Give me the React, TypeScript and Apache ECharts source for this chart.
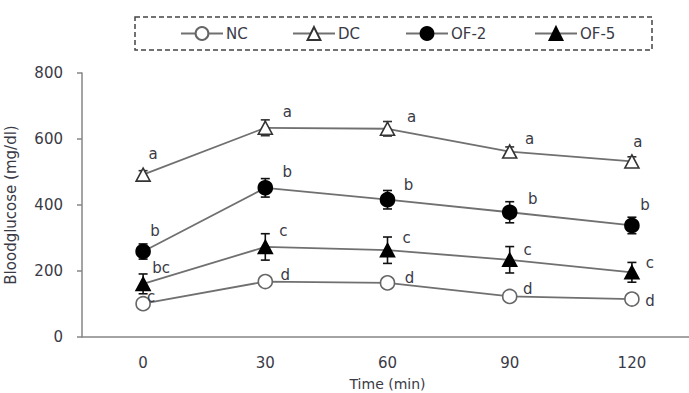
import React, { useEffect, useRef } from "react";
import * as echarts from "echarts";

// Time points (min)
const times = ["0", "30", "60", "90", "120"];

// Mean blood glucose (mg/dl) per group
const ncValues = [101, 168, 164, 123, 115];
const dcValues = [492, 634, 631, 562, 532];
const of2Values = [259, 452, 416, 378, 338];
const of5Values = [161, 273, 263, 234, 196];

// Standard errors (mg/dl)
const ncErr = [10, 10, 10, 10, 10];
const dcErr = [12, 24, 22, 14, 14];
const of2Err = [23, 28, 28, 32, 25];
const of5Err = [30, 40, 40, 40, 30];

// Significance letters
const ncLetters = ["c", "d", "d", "d", "d"];
const dcLetters = ["a", "a", "a", "a", "a"];
const of2Letters = ["b", "b", "b", "b", "b"];
const of5Letters = ["bc", "c", "c", "c", "c"];

const yTicks = [0, 200, 400, 600, 800];

const FONT = "DejaVu Sans";
const LINE_COLOR = "#707070";
const TEXT_COLOR = "#3a3a46";

// Letter placement relative to each marker
const ncOffsets = [[8, -7], [20, -7], [22, -5], [18, -7], [18, 2]];
const dcOffsets = [[10, -21], [22, -16], [24, -12], [20, -13], [6, -19]];
const of2Offsets = [[12, -21], [22, -16], [21, -15], [23, -13], [13, -20]];
const of5Offsets = [[18, -16], [18, -16], [19, -12], [18, -10], [18, -9]];

function withLetters(values: number[], letters: string[], offsets: number[][]) {
  return values.map((v, i) => ({
    value: v,
    label: {
      show: true,
      position: "inside",
      formatter: letters[i],
      offset: offsets[i],
      color: TEXT_COLOR,
      fontFamily: FONT,
      fontSize: 15,
    },
  }));
}

function errorSeries(values: number[], errs: number[], color: string) {
  return {
    type: "custom",
    z: 1,
    silent: true,
    data: values.map((v, i) => [i, v - errs[i], v + errs[i]]),
    renderItem: (_params: any, api: any) => {
      const x = api.value(0);
      const lo = api.coord([x, api.value(1)]);
      const hi = api.coord([x, api.value(2)]);
      const cap = 4.5;
      const style = { stroke: color, lineWidth: 1.6 };
      return {
        type: "group",
        children: [
          { type: "line", shape: { x1: lo[0], y1: lo[1], x2: hi[0], y2: hi[1] }, style },
          { type: "line", shape: { x1: hi[0] - cap, y1: hi[1], x2: hi[0] + cap, y2: hi[1] }, style },
          { type: "line", shape: { x1: lo[0] - cap, y1: lo[1], x2: lo[0] + cap, y2: lo[1] }, style },
        ],
      };
    },
  };
}

function lineSeries(
  name: string,
  data: any[],
  symbol: string,
  fill: string,
  border: string
) {
  return {
    name,
    type: "line",
    z: 3,
    data,
    symbol,
    symbolSize: symbol === "triangle" ? [14, 13] : 14,
    showAllSymbol: true,
    lineStyle: { color: LINE_COLOR, width: 1.8 },
    itemStyle: { color: fill, borderColor: border, borderWidth: 1.6 },
  };
}

const legendLefts = [180, 292, 405, 534];
const legendNames = ["NC", "DC", "OF-2", "OF-5"];

export default function App() {
  const ref = useRef<HTMLDivElement>(null);

  useEffect(() => {
    if (!ref.current) return;
    const chart = echarts.init(ref.current, null, { renderer: "svg" });

    chart.setOption({
      animation: false,
      backgroundColor: "#ffffff",
      textStyle: { fontFamily: FONT },
      grid: {
        left: 82,
        top: 73,
        width: 611,
        bottom: 56,
        containLabel: false,
        outerBoundsMode: "none",
      },
      legend: legendNames.map((n, i) => ({
        data: [n],
        left: legendLefts[i],
        top: 26,
        padding: 0,
        itemWidth: 42,
        itemHeight: 16,
        itemGap: 0,
        selectedMode: false,
        textStyle: { color: TEXT_COLOR, fontFamily: FONT, fontSize: 15, padding: [0, 0, 0, -2] },
      })),
      graphic: [
        {
          type: "rect",
          shape: { x: 135, y: 17, width: 517, height: 33 },
          style: { fill: "none", stroke: "#444", lineWidth: 1.5, lineDash: [5, 3] },
        },
      ],
      xAxis: {
        type: "category",
        data: times,
        boundaryGap: true,
        name: "Time (min)",
        nameLocation: "middle",
        nameGap: 40,
        nameTextStyle: { color: TEXT_COLOR, fontFamily: FONT, fontSize: 14 },
        axisLine: { lineStyle: { color: "#868686", width: 1.5 } },
        axisTick: { show: false },
        axisLabel: { color: TEXT_COLOR, fontFamily: FONT, fontSize: 15, margin: 18 },
        splitLine: { show: false },
      },
      yAxis: {
        type: "value",
        min: yTicks[0],
        max: yTicks[yTicks.length - 1],
        interval: yTicks[1] - yTicks[0],
        name: "Bloodglucose (mg/dl)",
        nameLocation: "middle",
        nameGap: 64,
        nameTextStyle: { color: TEXT_COLOR, fontFamily: FONT, fontSize: 15 },
        axisLine: { show: true, lineStyle: { color: "#868686", width: 1.5 } },
        axisTick: { show: true, length: 5, lineStyle: { color: "#868686", width: 1.5 } },
        axisLabel: { color: TEXT_COLOR, fontFamily: FONT, fontSize: 15, margin: 19 },
        splitLine: { show: false },
      },
      series: [
        errorSeries(ncValues, ncErr, "#666"),
        errorSeries(dcValues, dcErr, "#333"),
        errorSeries(of2Values, of2Err, "#111"),
        errorSeries(of5Values, of5Err, "#111"),
        lineSeries("NC", withLetters(ncValues, ncLetters, ncOffsets), "circle", "#ffffff", "#666666"),
        lineSeries("DC", withLetters(dcValues, dcLetters, dcOffsets), "triangle", "#ffffff", "#333333"),
        lineSeries("OF-2", withLetters(of2Values, of2Letters, of2Offsets), "circle", "#000000", "#000000"),
        lineSeries("OF-5", withLetters(of5Values, of5Letters, of5Offsets), "triangle", "#000000", "#000000"),
      ],
    });

    return () => chart.dispose();
  }, []);

  return <div ref={ref} style={{ width: 689, height: 393, position: "absolute", left: 0, top: 0 }} />;
}
